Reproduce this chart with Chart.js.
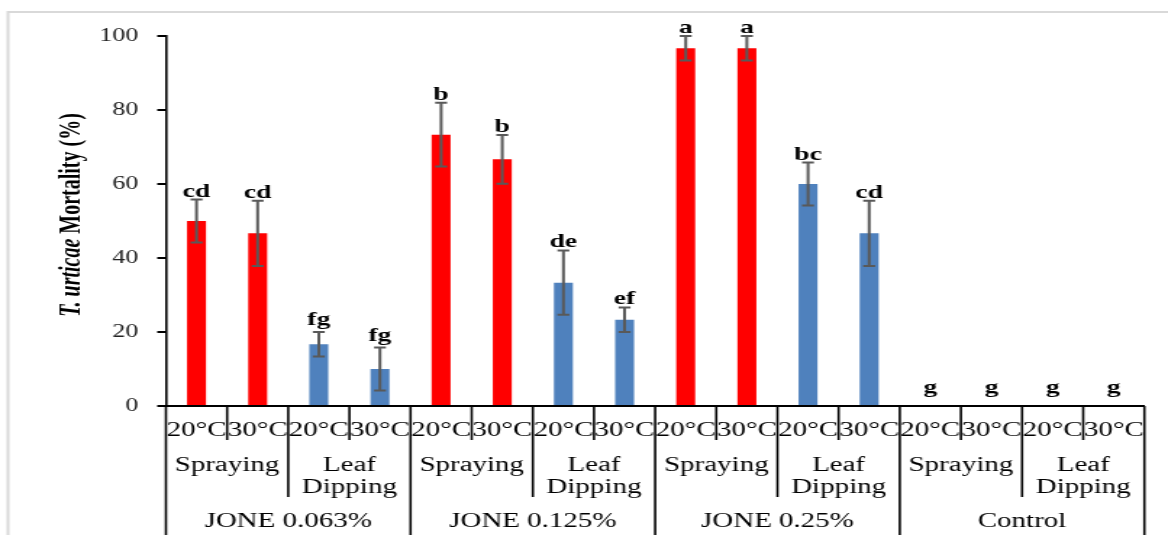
<!DOCTYPE html>
<html>
<head>
<meta charset="utf-8">
<script src="https://cdn.jsdelivr.net/npm/chart.js@4.4.0/dist/chart.umd.min.js"></script>
<style>
  html, body { margin: 0; padding: 0; background: #fff; overflow: hidden; }
  #wrap { width: 1168px; height: 535px; overflow: hidden; }
  /* the original figure is stretched sideways, so the canvas is too */
  #chart { display: block; transform: scaleX(1.4491); transform-origin: 0 0; }
</style>
</head>
<body>
<div id="wrap"><canvas id="chart" width="806" height="535"></canvas></div>
<script>
// data
const groups = ["JONE 0.063%", "JONE 0.125%", "JONE 0.25%", "Control"];
const methods = ["Spraying", "Leaf Dipping"];
const temps = ["20°C", "30°C"];
const mortality = [50, 46.67, 16.67, 10, 73.33, 66.67, 33.33, 23.33, 96.67, 96.67, 60, 46.67, 0, 0, 0, 0];
const errors = [5.8, 8.8, 3.3, 5.8, 8.6, 6.6, 8.7, 3.3, 3.3, 3.3, 5.8, 8.8, 0, 0, 0, 0];
const letters = ["cd", "cd", "fg", "fg", "b", "b", "de", "ef", "a", "a", "bc", "cd", "g", "g", "g", "g"];
const yTicks = [0, 20, 40, 60, 80, 100];

const methodColors = ["#FF0000", "#4F81BD"];
const serif = "'Liberation Serif', 'Times New Roman', serif";

const labels = groups.flatMap(() => methods.flatMap(() => temps));
const barColors = labels.map((_, i) => methodColors[Math.floor(i / temps.length) % methods.length]);

// error bars, letters, multi-level x labels, title
const extras = {
    id: "extras",
    afterDraw(chart) {
        const ctx = chart.ctx;
        const x = chart.scales.x;
        const y = chart.scales.y;
        const bars = chart.getDatasetMeta(0).data;
        const n = labels.length;

        ctx.save();
        // error bars
        ctx.strokeStyle = "#595959";
        ctx.lineWidth = 2;
        bars.forEach((bar, i) => {
            if (!errors[i]) return;
            const top = y.getPixelForValue(mortality[i] + errors[i]);
            const bot = y.getPixelForValue(mortality[i] - errors[i]);
            ctx.beginPath();
            ctx.moveTo(bar.x, top); ctx.lineTo(bar.x, bot);
            ctx.moveTo(bar.x - 4.1, top); ctx.lineTo(bar.x + 4.1, top);
            ctx.moveTo(bar.x - 4.1, bot); ctx.lineTo(bar.x + 4.1, bot);
            ctx.stroke();
        });

        // significance letters, text box sits just above the error bar
        ctx.fillStyle = "#000";
        ctx.font = "bold 19px " + serif;
        ctx.textAlign = "center";
        ctx.textBaseline = "alphabetic";
        bars.forEach((bar, i) => {
            const desc = Math.max(0, ctx.measureText(letters[i]).actualBoundingBoxDescent);
            const gap = errors[i] ? 3 : 9;
            const yy = y.getPixelForValue(mortality[i] + errors[i]) - gap - desc;
            ctx.fillText(letters[i], bar.x, yy);
        });

        // divider lines below the axis
        const edge = b => b === 0 ? x.left : b === n ? x.right
            : (x.getPixelForValue(b - 1) + x.getPixelForValue(b)) / 2;
        ctx.strokeStyle = "#000";
        ctx.lineWidth = 1.6;
        for (let b = 0; b <= n; b++) {
            const len = b % 4 === 0 ? 535 : b % 2 === 0 ? 497 : 440;
            ctx.beginPath();
            ctx.moveTo(edge(b), x.top);
            ctx.lineTo(edge(b), len);
            ctx.stroke();
        }

        // labels
        ctx.font = "20px " + serif;
        ctx.fillStyle = "#000";
        labels.forEach((lab, i) => ctx.fillText(lab, x.getPixelForValue(i), 436));
        const per = temps.length;
        for (let m = 0; m < n / per; m++) {
            const cx = (edge(m * per) + edge((m + 1) * per)) / 2;
            const words = methods[m % methods.length].split(" ");
            if (words.length === 1) ctx.fillText(words[0], cx, 471);
            else { ctx.fillText(words[0], cx, 471); ctx.fillText(words[1], cx, 493); }
        }
        const gsz = per * methods.length;
        groups.forEach((g, k) => {
            const cx = (edge(k * gsz) + edge((k + 1) * gsz)) / 2;
            ctx.fillText(g, cx, 527);
        });

        // y title, mixed italic / regular
        const p1 = "T. urticae", p2 = " Mortality (%)";
        const f1 = "italic bold 20px " + serif, f2 = "bold 20px " + serif;
        ctx.font = f1; const w1 = ctx.measureText(p1).width;
        ctx.font = f2; const w2 = ctx.measureText(p2).width;
        ctx.translate(54.6, 215);
        ctx.rotate(-Math.PI / 2);
        ctx.textAlign = "left";
        ctx.font = f1; ctx.fillText(p1, -(w1 + w2) / 2, 0);
        ctx.font = f2; ctx.fillText(p2, -(w1 + w2) / 2 + w1, 0);
        ctx.restore();

        // light frame
        ctx.save();
        ctx.strokeStyle = "#d9d9d9";
        ctx.lineWidth = 2;
        ctx.beginPath();
        ctx.moveTo(5.5, 535); ctx.lineTo(5.5, 12); ctx.lineTo(806, 12);
        ctx.stroke();
        ctx.restore();
    }
};

const ctx = document.getElementById("chart").getContext("2d");
new Chart(ctx, {
    type: "bar",
    data: {
        labels: labels,
        datasets: [{
            data: mortality,
            backgroundColor: barColors,
            borderWidth: 0,
            categoryPercentage: 1,
            barPercentage: 0.31
        }]
    },
    options: {
        responsive: false,
        devicePixelRatio: 1,
        animation: false,
        layout: { padding: { left: 54.5, right: 16.3, top: 36, bottom: 0 } },
        plugins: {
            legend: { display: false },
            tooltip: { enabled: false }
        },
        scales: {
            x: {
                grid: { display: true, drawOnChartArea: false, drawTicks: false },
                border: { color: "#000", width: 2 },
                ticks: { display: false },
                afterFit: s => { s.height = 129; }
            },
            y: {
                min: yTicks[0],
                max: yTicks[yTicks.length - 1],
                ticks: {
                    stepSize: yTicks[1] - yTicks[0],
                    color: "#222",
                    padding: 13,
                    font: { family: serif, size: 18 }
                },
                grid: { drawOnChartArea: false, drawTicks: true, tickLength: 6, color: "#000", lineWidth: 2 },
                border: { color: "#000", width: 1.6 },
                afterFit: s => { s.width = 60; }
            }
        }
    },
    plugins: [extras]
});
</script>
</body>
</html>
